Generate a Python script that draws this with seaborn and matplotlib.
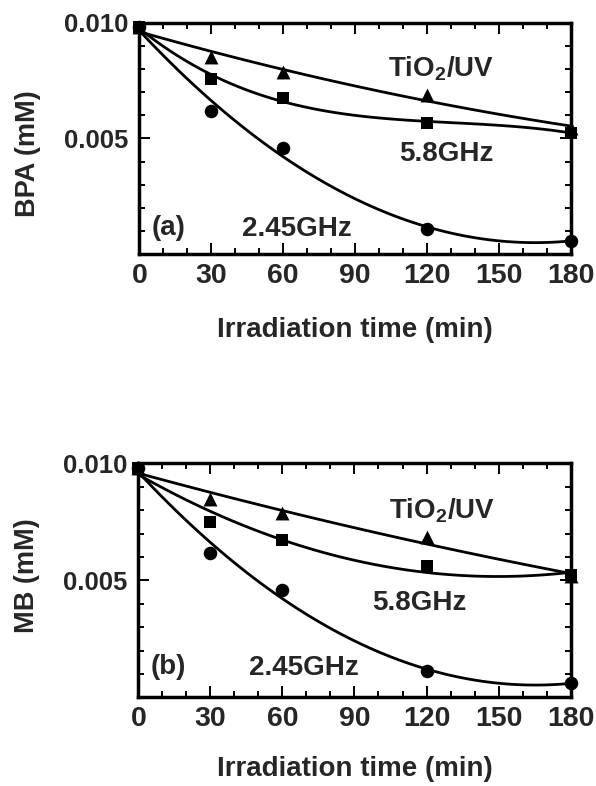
import numpy as np
import pandas as pd
import seaborn as sns
import matplotlib
matplotlib.use('Agg')
import matplotlib.pyplot as plt
from matplotlib.ticker import MultipleLocator

# tiempos de irradiación (min)
tiempo = [0, 30, 60, 120, 180]

# BPA (mM) - panel (a)
bpa_tio2 = [0.0098, 0.00850, 0.00788, 0.00688, 0.00544]
bpa_58 = [0.0098, 0.00757, 0.00676, 0.00568, 0.00525]
bpa_245 = [0.0098, 0.00619, 0.00458, 0.00109, 0.00059]

# MB (mM) - panel (b)
mb_tio2 = [0.0098, 0.00847, 0.00786, 0.00686, 0.00518]
mb_58 = [0.0098, 0.00751, 0.00672, 0.00562, 0.00523]
mb_245 = [0.0098, 0.00615, 0.00458, 0.00114, 0.00060]

series = ['TiO2/UV', '5.8GHz', '2.45GHz']
marcadores = {'TiO2/UV': '^', '5.8GHz': 's', '2.45GHz': 'o'}
tamanos = {'TiO2/UV': 100, '5.8GHz': 85, '2.45GHz': 95}

# orden del ajuste polinómico de cada curva
orden_a = {'TiO2/UV': 2, '5.8GHz': 3, '2.45GHz': 2}
orden_b = {'TiO2/UV': 2, '5.8GHz': 2, '2.45GHz': 2}

x_ticks = [0, 30, 60, 90, 120, 150, 180]
y_ticks = [0.005, 0.010]
y_ticklabels = ['0.005', '0.010']

sns.set_theme(style='ticks')
plt.rcParams['font.family'] = ['Liberation Sans', 'DejaVu Sans']
plt.rcParams['font.weight'] = 'bold'
plt.rcParams['mathtext.fontset'] = 'custom'
plt.rcParams['mathtext.bf'] = 'Liberation Sans:bold'
plt.rcParams['mathtext.rm'] = 'Liberation Sans:bold'

NARROW = ['Liberation Sans Narrow', 'Liberation Sans', 'DejaVu Sans']


def armar_df(tio2, f58, f245):
    filas = []
    for nombre, vals in zip(series, [tio2, f58, f245]):
        for t, v in zip(tiempo, vals):
            filas.append({'t': t, 'c': v, 'serie': nombre})
    return pd.DataFrame(filas)


def dibujar_panel(ax, df, orden, ylabel, letra, pos_textos, ylab_xy, xlab_y):
    for nombre in series:
        sub = df[df['serie'] == nombre]
        sns.regplot(ax=ax, data=sub, x='t', y='c', order=orden[nombre],
                    ci=None, scatter=False, truncate=True,
                    line_kws={'color': 'black', 'lw': 2.0, 'clip_on': False})
        sns.scatterplot(ax=ax, data=sub, x='t', y='c',
                        marker=marcadores[nombre], color='black',
                        s=tamanos[nombre], edgecolor='black', linewidth=0,
                        clip_on=False, zorder=5, legend=False)

    ax.set_xlim(0, 180)
    ax.set_ylim(0, 0.010)
    ax.set_xticks(x_ticks)
    ax.set_xticklabels([str(v) for v in x_ticks])
    ax.xaxis.set_minor_locator(MultipleLocator(10))
    ax.set_yticks(y_ticks)
    ax.set_yticklabels(y_ticklabels)
    ax.yaxis.set_minor_locator(MultipleLocator(0.001))

    ax.tick_params(which='both', direction='in', top=True, right=True,
                   color='black', width=1.4)
    ax.tick_params(which='major', length=8)
    ax.tick_params(which='minor', length=4)
    ax.tick_params(axis='x', which='major', pad=6)
    ax.tick_params(axis='y', which='major', pad=8)

    plt.setp(ax.get_xticklabels(), family=NARROW, size=20.5, weight='bold')
    plt.setp(ax.get_yticklabels(), size=18.5, weight='bold')

    for s in ax.spines.values():
        s.set_linewidth(2.5)
        s.set_color('black')

    # etiquetas de ejes
    ax.set_xlabel('Irradiation time (min)', fontsize=20, fontweight='bold',
                  va='center')
    ax.xaxis.set_label_coords(0.5, xlab_y)
    ax.set_ylabel(ylabel, fontsize=19.5, fontweight='bold',
                  va='center', ha='center')
    ax.yaxis.set_label_coords(*ylab_xy)

    # textos dentro del panel
    textos = ['TiO$_\\mathbf{2}$/UV', '5.8GHz', '2.45GHz', letra]
    for txt, (x, y) in zip(textos, pos_textos):
        ax.text(x, y, txt, fontsize=20, fontweight='bold',
                ha='center', va='center')


df_a = armar_df(bpa_tio2, bpa_58, bpa_245)
df_b = armar_df(mb_tio2, mb_58, mb_245)

fig = plt.figure(figsize=(5.96, 7.86), dpi=100)
ax1 = fig.add_axes([0.234, 0.6765, 0.7235, 0.2947])
ax2 = fig.add_axes([0.232, 0.1128, 0.7255, 0.2977])

dibujar_panel(ax1, df_a, orden_a, 'BPA (mM)', '(a)',
              [(126, 0.0080), (128, 0.00432), (65.5, 0.00108), (12.1, 0.00115)],
              (-0.259, 0.435), -0.327)
dibujar_panel(ax2, df_b, orden_b, 'MB (mM)', '(b)',
              [(126.4, 0.0080), (117, 0.00402), (68.8, 0.00124), (12.6, 0.00130)],
              (-0.257, 0.52), -0.306)

fig.savefig('out.png', dpi=100)
